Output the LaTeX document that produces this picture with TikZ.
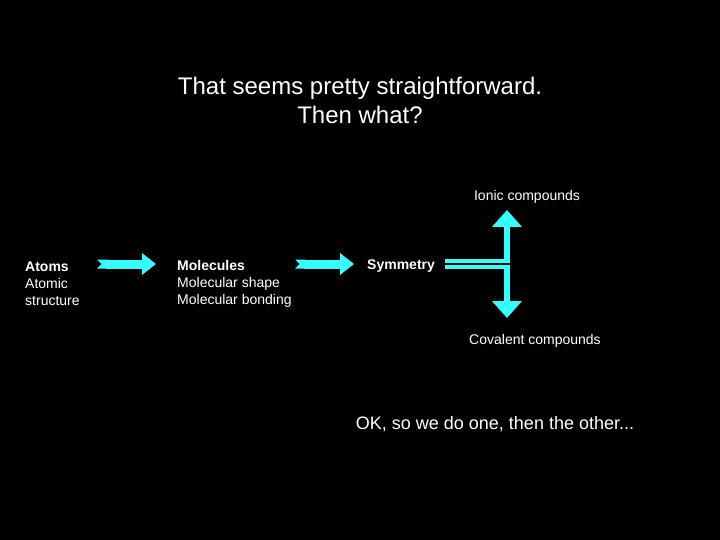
\documentclass[tikz,border=0pt]{standalone}
\usepackage{fontspec}
\setmainfont{Liberation Sans}
\usetikzlibrary{arrows.meta}
\definecolor{aqua}{RGB}{51,255,255}
\tikzset{
  txt/.style  ={text=white, inner sep=0pt, font=\fontsize{14}{17}\selectfont, align=left},
  ttl/.style  ={text=white, inner sep=0pt, font=\fontsize{24}{29}\selectfont, align=center},
  blk/.style  ={draw=aqua, line width=9pt, {Triangle Cap[reversed]}-{Triangle[width=21pt,length=14pt]}},
  vert/.style ={draw=aqua, line width=6pt, -{Triangle[width=29pt,length=17pt]}},
}
\begin{document}
\begin{tikzpicture}[x=1pt,y=-1pt]
\fill[black] (0,0) rectangle (720,540);
\useasboundingbox (0,0) rectangle (720,540);
\node[ttl] (title) at (360,100) {That seems pretty straightforward.\\Then what?};
\node[txt, anchor=west] (atoms) at (25,283.5) {\textbf{Atoms}\\Atomic\\structure};
\node[txt, anchor=west] (mol) at (177,283.5) {\textbf{Molecules}\\Molecular shape\\Molecular bonding};
\node[txt, anchor=west] (sym) at (367,266.5) {\textbf{Symmetry}};
\node[txt] (ionic) at (527,196.5) {Ionic compounds};
\node[txt] (cov) at (535,340.5) {Covalent compounds};
\node[txt, font=\fontsize{18}{20}\selectfont] (ok) at (495,424) {OK, so we do one, then the other...};
% block arrows
\coordinate (a1s) at (97,264);
\coordinate (a1e) at (156,264);
\coordinate (a2s) at (295,264);
\coordinate (a2e) at (354,264);
\draw[blk] (a1s) -- (a1e);
\draw[blk] (a2s) -- (a2e);
% split to ionic / covalent
\coordinate (bar) at (445,264);
\coordinate (jn) at (507,264);
\coordinate (up) at (507,210);
\coordinate (dn) at (507,318);
\draw[aqua, line width=10pt] (bar) -- ([xshift=3pt]jn);
\draw[vert] (jn) -- (up);
\draw[vert] (jn) -- (dn);
\draw[black, line width=1.5pt] (bar) -- ([xshift=3pt]jn);
\end{tikzpicture}
\end{document}
